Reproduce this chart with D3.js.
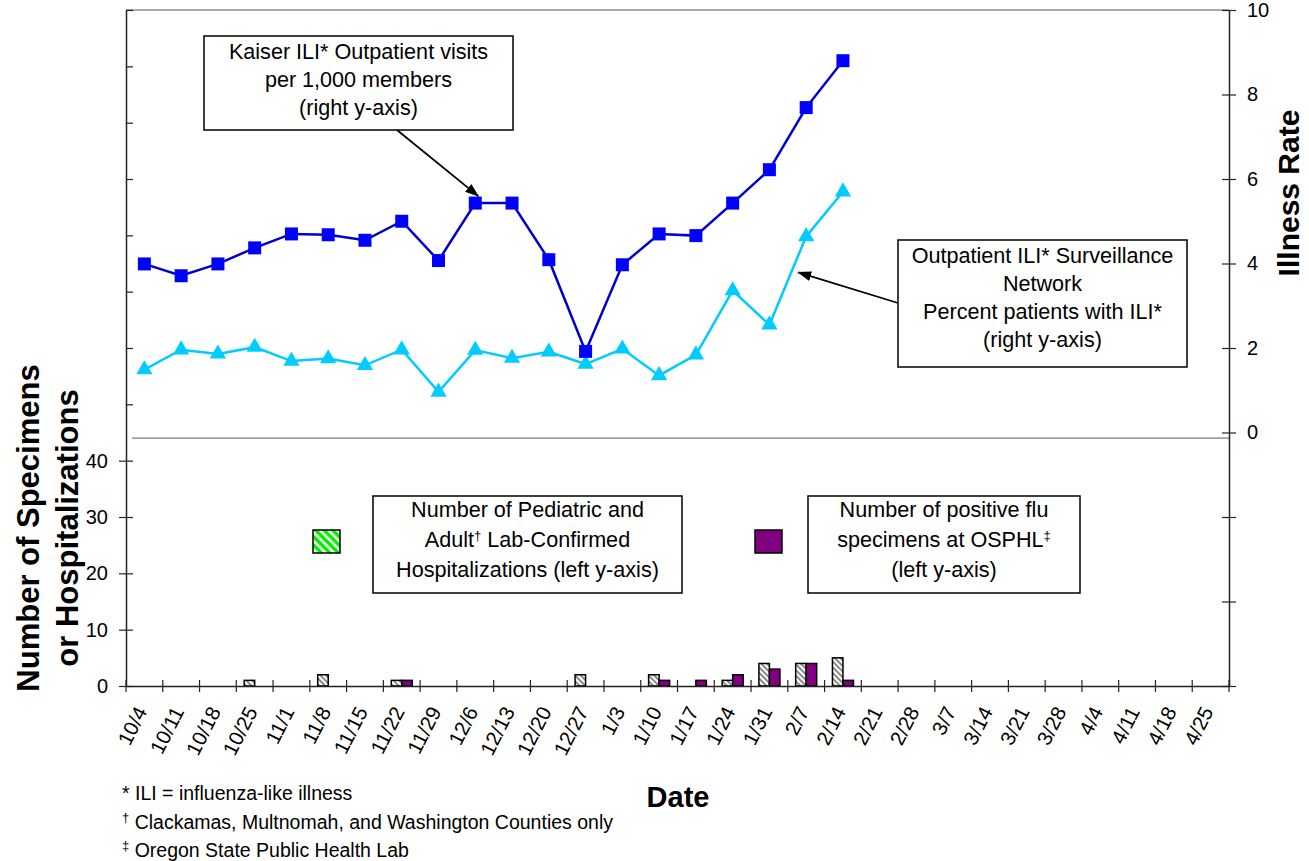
<!DOCTYPE html>
<html>
<head>
<meta charset="utf-8">
<script src="https://cdn.jsdelivr.net/npm/d3@7"></script>
<style>
  body { margin: 0; background: #fff; }
  svg text { font-family: "Liberation Sans", Arial, sans-serif; fill: #000; }
</style>
</head>
<body>
<svg id="chart" width="1309" height="861"></svg>
<script>
// weeks on the x axis
var weeks = ["10/4", "10/11", "10/18", "10/25", "11/1", "11/8", "11/15", "11/22", "11/29",
  "12/6", "12/13", "12/20", "12/27", "1/3", "1/10", "1/17", "1/24", "1/31", "2/7", "2/14",
  "2/21", "2/28", "3/7", "3/14", "3/21", "3/28", "4/4", "4/11", "4/18", "4/25"];

// right y-axis series (illness rate)
var kaiserRate = [3.99, 3.71, 3.99, 4.37, 4.70, 4.68, 4.55, 5.00, 4.07, 5.43,
  5.43, 4.09, 1.92, 3.97, 4.70, 4.66, 5.43, 6.22, 7.69, 8.80];
var outpatientPct = [1.49, 1.96, 1.86, 2.02, 1.69, 1.75, 1.59, 1.96, 0.96, 1.95,
  1.76, 1.91, 1.62, 1.98, 1.35, 1.84, 3.36, 2.55, 4.64, 5.70];

// left y-axis series (counts)
var hospitalizations = [0, 0, 0, 1, 0, 2, 0, 1, 0, 0, 0, 0, 2, 0, 2, 0, 1, 4, 4, 5];
var fluSpecimens = [0, 0, 0, 0, 0, 0, 0, 1, 0, 0, 0, 0, 0, 0, 1, 1, 2, 3, 4, 1];

// axis ticks
var leftTicks = d3.range(0, 121, 10);
var leftLabelMax = 40;
var rightTicks = d3.range(-6, 11, 2);

var svg = d3.select("#chart");
var plotLeft = 126, plotRight = 1229, plotTop = 10, plotBottom = 686;

var x = d3.scaleBand().domain(weeks).range([plotLeft, plotRight]);
var xSub = d3.scaleBand().domain(["hosp", "flu"]).range([0, x.bandwidth()]).paddingOuter(0.75);
var yLeft = d3.scaleLinear().domain([0, 120]).range([plotBottom, plotTop]);
var yRight = d3.scaleLinear().domain([-6, 10]).range([plotBottom, plotTop]);

var defs = svg.append("defs");
// hatched gray bars
var hatch = defs.append("pattern").attr("id", "hatchGray").attr("patternUnits", "userSpaceOnUse")
  .attr("width", 4).attr("height", 4).attr("patternTransform", "rotate(-45)");
hatch.append("rect").attr("width", 4).attr("height", 4).attr("fill", "#ffffff");
hatch.append("rect").attr("width", 2).attr("height", 4).attr("fill", "#8a8a8a");
// legend swatch: green with white stripes
var hatchG = defs.append("pattern").attr("id", "hatchGreen").attr("patternUnits", "userSpaceOnUse")
  .attr("width", 6).attr("height", 6).attr("patternTransform", "rotate(-45)");
hatchG.append("rect").attr("width", 6).attr("height", 6).attr("fill", "#00ee00");
hatchG.append("rect").attr("width", 2.5).attr("height", 6).attr("fill", "#ffffff");
defs.append("marker").attr("id", "arrow").attr("markerUnits", "userSpaceOnUse")
  .attr("markerWidth", 14).attr("markerHeight", 10).attr("refX", 13).attr("refY", 5)
  .attr("orient", "auto")
  .append("path").attr("d", "M0,0 L14,5 L0,10 Z").attr("fill", "#000");

// frame lines
svg.append("line").attr("x1", plotLeft).attr("x2", plotRight).attr("y1", plotTop).attr("y2", plotTop)
  .attr("stroke", "#8c8c8c").attr("stroke-width", 1.5);
svg.append("line").attr("x1", plotLeft + 6).attr("x2", plotRight).attr("y1", yLeft(44)).attr("y2", yLeft(44))
  .attr("stroke", "#7a7a7a").attr("stroke-width", 1.2);

// bars
var barData = [];
weeks.forEach(function (w, i) {
  if (hospitalizations[i]) barData.push({ week: w, key: "hosp", value: hospitalizations[i] });
  if (fluSpecimens[i]) barData.push({ week: w, key: "flu", value: fluSpecimens[i] });
});
svg.append("g").selectAll("rect").data(barData).enter().append("rect")
  .attr("x", d => x(d.week) + xSub(d.key))
  .attr("width", xSub.bandwidth())
  .attr("y", d => yLeft(d.value))
  .attr("height", d => yLeft(0) - yLeft(d.value))
  .attr("fill", d => d.key === "hosp" ? "url(#hatchGray)" : "#800080")
  .attr("stroke", "#000").attr("stroke-width", 1.5);

// axes
var axL = svg.append("g").attr("transform", "translate(" + plotLeft + ",0)")
  .call(d3.axisLeft(yLeft).tickValues(leftTicks).tickSizeOuter(0).tickSizeInner(7).tickPadding(11)
    .tickFormat(d => d <= leftLabelMax ? d : ""));
axL.selectAll(".tick line").attr("x1", 7).attr("x2", d => d <= leftLabelMax ? -7 : 0);
var axR = svg.append("g").attr("transform", "translate(" + plotRight + ",0)")
  .call(d3.axisRight(yRight).tickValues(rightTicks).tickSizeOuter(0).tickSizeInner(7).tickPadding(11)
    .tickFormat(d => d >= 0 ? d : ""));
axR.selectAll(".tick line").attr("x1", -7);
var axB = svg.append("g").attr("transform", "translate(0," + plotBottom + ")")
  .call(d3.axisBottom(x).tickSize(0).tickSizeOuter(0).tickPadding(0));
axB.selectAll(".tick text")
  .attr("y", 0).attr("dy", "0.35em")
  .attr("text-anchor", "end")
  .attr("transform", "translate(-3,22) rotate(-63)");
axB.selectAll(".bound").data(d3.range(weeks.length + 1)).enter().append("line")
  .attr("class", "bound")
  .attr("x1", i => plotLeft + i * x.step()).attr("x2", i => plotLeft + i * x.step())
  .attr("y1", -6).attr("y2", 6);
[axL, axR, axB].forEach(function (a) {
  a.selectAll("path.domain").attr("stroke", "#222").attr("stroke-width", 1.5);
  a.selectAll(".tick line").attr("stroke", "#222").attr("stroke-width", 1.2);
  a.selectAll("text").attr("font-size", 20).attr("font-family", "Liberation Sans, Arial, sans-serif");
});
axB.selectAll("text").attr("font-size", 20.5);
axB.selectAll("line.bound").attr("stroke", "#222").attr("stroke-width", 1.2);

// lines
function series(values, color, width, symbol, size, markColor) {
  var pts = values.map((v, i) => ({ week: weeks[i], value: v }));
  var line = d3.line().x(d => x(d.week) + x.bandwidth() / 2).y(d => yRight(d.value));
  svg.append("path").datum(pts).attr("d", line).attr("fill", "none")
    .attr("stroke", color).attr("stroke-width", width);
  svg.append("g").selectAll("path").data(pts).enter().append("path")
    .attr("d", d3.symbol().type(symbol).size(size))
    .attr("transform", d => "translate(" + (x(d.week) + x.bandwidth() / 2) + "," + yRight(d.value) + ")")
    .attr("fill", markColor);
}
series(outpatientPct, "#00ccff", 2.5, d3.symbolTriangle, 115, "#00ccff");
series(kaiserRate, "#0000cc", 2.5, d3.symbolSquare, 169, "#0000ff");

// annotation boxes
function box(x0, y0, w, h, lines, lh, firstBase) {
  svg.append("rect").attr("x", x0).attr("y", y0).attr("width", w).attr("height", h)
    .attr("fill", "#fff").attr("stroke", "#000").attr("stroke-width", 1.5);
  var t = svg.append("text").attr("text-anchor", "middle").attr("font-size", 21.6);
  lines.forEach(function (ln, i) {
    var row = t.append("tspan").attr("x", x0 + w / 2).attr("y", y0 + firstBase + i * lh);
    ln.forEach(function (part) {
      var s = row.append("tspan").text(part.t);
      if (part.sup) s.attr("baseline-shift", "super").attr("font-size", 13);
    });
  });
}
svg.append("line").attr("x1", 397).attr("y1", 130)
  .attr("x2", x("12/6") + x.bandwidth() / 2 + 3).attr("y2", yRight(kaiserRate[9]) - 7)
  .attr("stroke", "#000").attr("stroke-width", 1.8).attr("marker-end", "url(#arrow)");
svg.append("line").attr("x1", 898).attr("y1", 303)
  .attr("x2", x("2/7") + x.bandwidth() / 2 - 8).attr("y2", yRight(3.79))
  .attr("stroke", "#000").attr("stroke-width", 1.8).attr("marker-end", "url(#arrow)");

box(204, 36, 309, 94, [[{ t: "Kaiser ILI* Outpatient visits" }], [{ t: "per 1,000 members" }], [{ t: "(right y-axis)" }]], 28, 23);
box(898, 240, 289, 127, [[{ t: "Outpatient ILI* Surveillance" }], [{ t: "Network" }],
  [{ t: "Percent patients with ILI*" }], [{ t: "(right y-axis)" }]], 28, 23);
box(373, 496, 309, 97, [[{ t: "Number of Pediatric and" }], [{ t: "Adult" }, { t: "†", sup: true }, { t: " Lab-Confirmed" }],
  [{ t: "Hospitalizations (left y-axis)" }]], 30, 21);
box(808, 496, 272, 97, [[{ t: "Number of positive flu" }], [{ t: "specimens at OSPHL" }, { t: "‡", sup: true }],
  [{ t: "(left y-axis)" }]], 30, 21);

// legend swatches
svg.append("rect").attr("x", 313).attr("y", 530).attr("width", 27).attr("height", 23)
  .attr("fill", "url(#hatchGreen)").attr("stroke", "#000").attr("stroke-width", 1.5);
svg.append("rect").attr("x", 755).attr("y", 530).attr("width", 27).attr("height", 23)
  .attr("fill", "#800080").attr("stroke", "#000").attr("stroke-width", 1.5);

// axis titles
svg.append("text").attr("transform", "translate(28,528) rotate(-90)").attr("text-anchor", "middle")
  .attr("dy", "0.36em").attr("font-size", 31).attr("font-weight", "bold").text("Number of Specimens");
svg.append("text").attr("transform", "translate(67,528) rotate(-90)").attr("text-anchor", "middle")
  .attr("dy", "0.36em").attr("font-size", 31).attr("font-weight", "bold").text("or Hospitalizations");
svg.append("text").attr("transform", "translate(1288,193) rotate(-90)").attr("text-anchor", "middle")
  .attr("dy", "0.36em").attr("font-size", 30).attr("font-weight", "bold").text("Illness Rate");
svg.append("text").attr("x", 678).attr("y", 807).attr("text-anchor", "middle")
  .attr("font-size", 29).attr("font-weight", "bold").text("Date");

// footnotes
var notes = [["*", " ILI = influenza-like illness", false], ["†", " Clackamas, Multnomah, and Washington Counties only", true],
  ["‡", " Oregon State Public Health Lab", true]];
notes.forEach(function (n, i) {
  var t = svg.append("text").attr("x", 122).attr("y", 800 + i * 28.5).attr("font-size", 19.5);
  var s = t.append("tspan").text(n[0]);
  if (n[2]) s.attr("baseline-shift", "super").attr("font-size", 13);
  t.append("tspan").text(n[1]);
});
</script>
</body>
</html>
